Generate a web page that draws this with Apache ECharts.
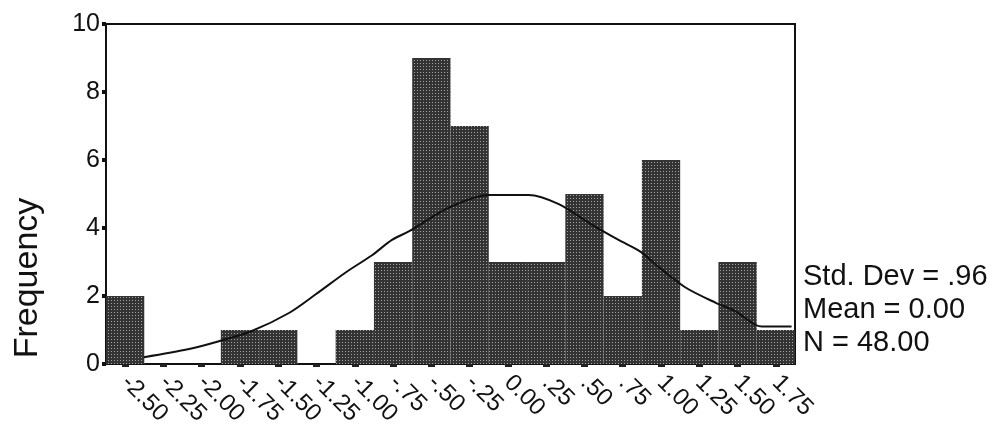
<!DOCTYPE html>
<html>
<head>
<meta charset="utf-8">
<script src="https://cdn.jsdelivr.net/npm/echarts@6/dist/echarts.min.js"></script>
<style>
html,body{margin:0;padding:0;background:#fff;}
#chart{width:1006px;height:434px;}
</style>
</head>
<body>
<div id="chart"></div>
<script>
// Bin labels (x axis)
var categories = ['-2.50','-2.25','-2.00','-1.75','-1.50','-1.25','-1.00','-.75','-.50','-.25','0.00','.25','.50','.75','1.00','1.25','1.50','1.75'];
// Frequencies per bin
var frequency = [2,0,0,1,1,0,1,3,9,7,3,3,5,2,6,1,3,1];
// Normal curve: position in bin units (0 = left edge), frequency
var curveX = [0.99,2.17,2.95,3.81,4.78,5.48,6.27,6.95,7.47,7.91,8.96,10.0,11.04,11.83,12.69,13.39,13.97,14.44,15.14,15.93,16.45,17.13,17.91];
var curveY = [0.2,0.44,0.67,0.97,1.5,2.05,2.7,3.2,3.65,3.9,4.6,4.97,4.97,4.7,4.1,3.65,3.3,2.85,2.25,1.8,1.55,1.1,1.1];
// Y ticks
var yTicks = [0,2,4,6,8,10];
var statLines = ['Std. Dev = .96','Mean = 0.00','N = 48.00'];

var FONT = 'Liberation Sans, Arial, Helvetica, sans-serif';
var curveData = curveX.map(function(x,i){return [x, curveY[i]];});

var chart = echarts.init(document.getElementById('chart'));
chart.setOption({
  animation:false,
  backgroundColor:'#fff',
  grid:{left:106,right:211,top:24,bottom:70,show:true,borderColor:'#111',borderWidth:2,backgroundColor:'transparent'},
  xAxis:[{
    type:'category',
    data:categories,
    boundaryGap:true,
    axisLine:{show:true,lineStyle:{color:'#111',width:2}},
    axisTick:{show:true,alignWithLabel:true,interval:0,length:3,lineStyle:{color:'#222',width:7}},
    axisLabel:{interval:0,rotate:-45,fontSize:24,color:'#111',fontFamily:FONT,margin:15},
    splitLine:{show:false}
  },{
    type:'value',
    min:0,max:18,
    show:false,
    splitLine:{show:false}
  }],
  yAxis:{
    type:'value',
    min:yTicks[0],max:yTicks[yTicks.length-1],interval:2,
    axisLine:{show:true,lineStyle:{color:'#111',width:2}},
    axisTick:{show:true,length:4,lineStyle:{color:'#111',width:4}},
    axisLabel:{fontSize:25,color:'#111',fontFamily:FONT,margin:6},
    splitLine:{show:false}
  },
  series:[{
    type:'bar',
    xAxisIndex:0,
    data:frequency,
    barCategoryGap:'0%',
    itemStyle:{
      color:'#333333',
      decal:{symbol:'rect',symbolSize:1,color:'rgba(255,255,255,0.55)',dashArrayX:[1,2],dashArrayY:[1,2],rotation:0}
    },
    emphasis:{disabled:true}
  },{
    type:'line',
    xAxisIndex:1,
    data:curveData,
    smooth:0.3,
    showSymbol:false,
    symbol:'none',
    lineStyle:{color:'#111',width:2},
    z:5
  }],
  graphic:[
    {type:'text',x:28,y:278,rotation:Math.PI/2,style:{text:'Frequency',fontSize:34,fontFamily:FONT,fill:'#111',align:'center',verticalAlign:'middle'}},
    {type:'text',x:803,y:277,style:{text:statLines[0],fontSize:29,fontFamily:FONT,fill:'#111',align:'left',verticalAlign:'middle'}},
    {type:'text',x:803,y:310,style:{text:statLines[1],fontSize:29,fontFamily:FONT,fill:'#111',align:'left',verticalAlign:'middle'}},
    {type:'text',x:803,y:343,style:{text:statLines[2],fontSize:29,fontFamily:FONT,fill:'#111',align:'left',verticalAlign:'middle'}}
  ]
});
</script>
</body>
</html>
